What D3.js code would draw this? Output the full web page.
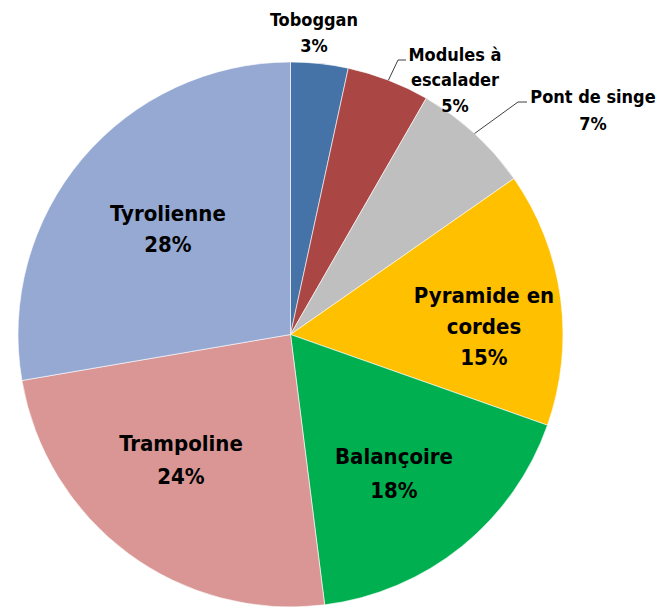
<!DOCTYPE html>
<html>
<head>
<meta charset="utf-8">
<script src="https://cdn.jsdelivr.net/npm/d3@7"></script>
<style>
  body { margin: 0; background: #fff; }
  svg text { font-family: "Liberation Sans Narrow", "Arial Narrow", "DejaVu Sans Condensed", sans-serif; font-weight: bold; fill: #000; }
</style>
</head>
<body>
<svg id="chart"></svg>
<script>
// Chart data (clockwise from 12 o'clock)
const categories = ["Toboggan", "Modules à escalader", "Pont de singe", "Pyramide en cordes", "Balançoire", "Trampoline", "Tyrolienne"];
const values = [3.4, 4.9, 7.0, 15.1, 17.6, 24.3, 27.7];
const colors = ["#4572A7", "#AA4643", "#BFBFBF", "#FFC000", "#00B050", "#D99694", "#95A9D3"];
// label lines as shown in the chart
const labelLines = [["Toboggan"], ["Modules à", "escalader"], ["Pont de singe"], ["Pyramide en", "cordes"], ["Balançoire"], ["Trampoline"], ["Tyrolienne"]];

const width = 660, height = 607;
const cx = 290.5, cy = 334.5, radius = 272.5;

const svg = d3.select("#chart").attr("width", width).attr("height", height);
const g = svg.append("g").attr("transform", `translate(${cx}, ${cy})`);

const total = d3.sum(values);
const pct = d3.format(".0%");

const data = categories.map((c, i) => ({ name: c, value: values[i], color: colors[i], lines: labelLines[i] }));

const pie = d3.pie().value((d) => d.value).sort(null);
const arc = d3.arc().innerRadius(0).outerRadius(radius);
const arcs = pie(data);

// Slices
g.selectAll(".slice")
  .data(arcs)
  .enter()
  .append("path")
  .attr("class", "slice")
  .attr("d", arc)
  .attr("fill", (d) => d.data.color)
  .attr("stroke", "#fff")
  .attr("stroke-width", 0.6);

// Label placement: radius factor + nudge, outside labels get a leader line
const labelLayout = [
  { r: 1.14, dx: -6, dy: -20, size: 18, lh: 26, outside: false },
  { r: 1.14, dx: 15, dy: -5, size: 18, lh: 25.5, outside: true, leader: [[398, 60], [406, 60]] },
  { r: 1.14, dx: 40, dy: 5, size: 18, lh: 27, outside: true, leader: [[518, 102], [527, 102]] },
  { r: 0.66, dx: 0, dy: 0, size: 22, lh: 31, outside: false },
  { r: 0.62, dx: 0, dy: 0, size: 22, lh: 34, outside: false },
  { r: 0.62, dx: 0, dy: 0, size: 22, lh: 33, outside: false },
  { r: 0.62, dx: 0, dy: 0, size: 22, lh: 31, outside: false },
];
const labelCenters = [[314, 33], [455, 80], [593, 110], [484, 326], [394, 473], [181, 460], [168, 229]];

// Leader lines
arcs.forEach((d, i) => {
  const lay = labelLayout[i];
  if (!lay.leader) return;
  const mid = (d.startAngle + d.endAngle) / 2;
  const start = [Math.sin(mid) * radius, -Math.cos(mid) * radius];
  const pts = [start].concat(lay.leader.map((p) => [p[0] - cx, p[1] - cy]));
  g.append("path")
    .attr("d", d3.line()(pts))
    .attr("fill", "none")
    .attr("stroke", "#404040")
    .attr("stroke-width", 1);
});

// Labels
arcs.forEach((d, i) => {
  const lay = labelLayout[i];
  const lines = d.data.lines.concat([pct(d.data.value / total)]);
  const [lx, ly] = labelCenters[i];
  const top = ly - ((lines.length - 1) * lay.lh) / 2;
  const t = svg.append("text")
    .attr("text-anchor", "middle")
    .style("font-size", lay.size + "px");
  lines.forEach((line, j) => {
    t.append("tspan")
      .attr("x", lx)
      .attr("y", top + j * lay.lh)
      .attr("dy", "0.35em")
      .text(line);
  });
});
</script>
</body>
</html>
